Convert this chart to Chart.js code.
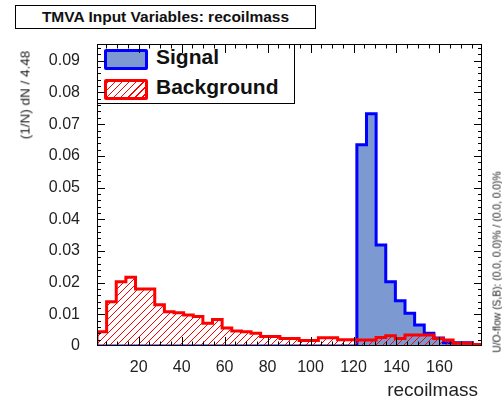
<!DOCTYPE html>
<html>
<head>
<meta charset="utf-8">
<script src="https://cdn.jsdelivr.net/npm/chart.js@4.4.1/dist/chart.umd.min.js"></script>
<style>
  html, body { margin: 0; padding: 0; background: #fff; }
  #wrap { position: relative; width: 502px; height: 401px; overflow: hidden; font-family: "Liberation Sans", Arial, Helvetica, sans-serif; }
  #c { position: absolute; left: 0; top: 0; z-index: 2; }
  #title { position: absolute; left: 15px; top: 5px; width: 299px; height: 22px; border: 1.5px solid #000; background: #fff;
           font-weight: bold; font-size: 15.5px; line-height: 22px; text-align: center; color: #111; z-index: 3; }
  #legend { position: absolute; left: 97px; top: 44px; width: 196px; height: 58px; border: 1px solid #000; background: #fff; z-index: 1; }
  .sw { position: absolute; left: 6px; width: 38px; border-radius: 2px; }
  #swS { top: 4px; height: 15px; background: #7d99d1; border: 3px solid #0000ff; }
  #swB { top: 34px; height: 15px; border: 3px solid #ff0000;
         background: repeating-linear-gradient(135deg, #ff0000 0px, #ff0000 1.2px, #ffffff 1.2px, #ffffff 5px); }
  .lt { position: absolute; left: 58px; font-weight: bold; font-size: 21px; line-height: 21px; color: #111; white-space: nowrap; }
  #uo { position: absolute; left: 497px; top: 262px; transform: translate(-50%, -50%) rotate(-90deg); font-size: 10.3px;
        color: #222; white-space: nowrap; z-index: 3; }
  #ytitle { position: absolute; left: 25px; top: 95px; transform: translate(-50%, -50%) rotate(-90deg); font-size: 13.5px;
        color: #222; white-space: nowrap; z-index: 3; }
  #xtitle { position: absolute; right: 24px; top: 380px; font-size: 19px; line-height: 20px; color: #222; white-space: nowrap; z-index: 3; }
</style>
</head>
<body>
<div id="wrap">
  <div id="title">TMVA Input Variables: recoilmass</div>
  <div id="legend">
    <div class="sw" id="swS"></div><div class="lt" style="top:1px">Signal</div>
    <div class="sw" id="swB"></div><div class="lt" style="top:31px">Background</div>
  </div>
  <canvas id="c" width="502" height="401"></canvas>
  <div id="ytitle">(1/N) dN / 4.48</div>
  <div id="xtitle">recoilmass</div>
  <div id="uo">U/O-flow (S,B): (0.0, 0.0)% / (0.0, 0.0)%</div>
</div>
<script>
// ---- data ----
const xMin = 0.6;
const binWidth = 4.48;
const nBins = 40;
const xMax = xMin + nBins * binWidth;
const yMax = 0.0953;

const signal = [
  0, 0, 0, 0, 0, 0, 0, 0, 0, 0,
  0, 0, 0, 0, 0, 0, 0, 0, 0, 0,
  0, 0, 0, 0, 0, 0, 0, 0.0635, 0.0733, 0.0319,
  0.0203, 0.0143, 0.0103, 0.0066, 0.0040, 0.0025, 0.0010, 0.0010, 0.0010, 0.0002
];
const background = [
  0.0045, 0.0140, 0.0203, 0.0217, 0.0180, 0.0180, 0.0130, 0.0108, 0.0105, 0.0098,
  0.0093, 0.0072, 0.0084, 0.0057, 0.0047, 0.0045, 0.0040, 0.0030, 0.0030, 0.0024,
  0.0024, 0.0017, 0.0017, 0.0026, 0.0026, 0.0020, 0.0020, 0.0019, 0.0019, 0.0027,
  0.0032, 0.0024, 0.0035, 0.0035, 0.0035, 0.0024, 0.0019, 0.0009, 0.0009, 0.0005
];
const xTicks = [20, 40, 60, 80, 100, 120, 140, 160];
const yTicks = [0, 0.01, 0.02, 0.03, 0.04, 0.05, 0.06, 0.07, 0.08, 0.09];
const yTickLabels = ['0', '0.01', '0.02', '0.03', '0.04', '0.05', '0.06', '0.07', '0.08', '0.09'];

// ---- helpers ----
function stepPoints(vals) {
  const pts = [{ x: xMin, y: 0 }];
  vals.forEach((v, i) => pts.push({ x: xMin + i * binWidth, y: v }));
  pts.push({ x: xMin + vals.length * binWidth, y: vals[vals.length - 1] });
  pts.push({ x: xMin + vals.length * binWidth, y: 0 });
  return pts;
}
const ctx = document.getElementById('c').getContext('2d');
function hatchPattern() {
  const s = 7;
  const c = document.createElement('canvas');
  c.width = s; c.height = s;
  const g = c.getContext('2d');
  g.strokeStyle = '#ff0000';
  g.lineWidth = 1;
  g.beginPath();
  g.moveTo(0, s); g.lineTo(s, 0);
  g.moveTo(-1, 1); g.lineTo(1, -1);
  g.moveTo(s - 1, s + 1); g.lineTo(s + 1, s - 1);
  g.stroke();
  return ctx.createPattern(c, 'repeat');
}

const font = '"Liberation Sans", Arial, Helvetica, sans-serif';

const framePlugin = {
  id: 'rootFrame',
  afterDatasetsDraw(chart) {
    const { ctx: c, chartArea: a, scales: { x, y } } = chart;
    c.save();
    c.strokeStyle = '#000';
    c.lineWidth = 1;
    c.strokeRect(a.left + 0.5, a.top + 0.5, a.right - a.left - 1, a.bottom - a.top - 1);
    c.beginPath();
    for (let v = 5; v < xMax; v += 5) {
      const px = Math.round(x.getPixelForValue(v)) + 0.5;
      const L = (v % 20 === 0) ? 9 : 4.5;
      c.moveTo(px, a.bottom); c.lineTo(px, a.bottom - L);
      c.moveTo(px, a.top); c.lineTo(px, a.top + L);
    }
    for (let k = 1; k * 0.002 < yMax; k++) {
      const py = Math.round(y.getPixelForValue(k * 0.002)) + 0.5;
      const L = (k % 5 === 0) ? 8 : 4;
      c.moveTo(a.left, py); c.lineTo(a.left + L, py);
      c.moveTo(a.right, py); c.lineTo(a.right - L, py);
    }
    c.stroke();
    c.restore();
  }
};

new Chart(ctx, {
  type: 'line',
  data: {
    datasets: [
      {
        label: 'Background',
        data: stepPoints(background),
        stepped: 'before',
        borderColor: '#ff0000',
        borderWidth: 3,
        backgroundColor: hatchPattern(),
        fill: 'origin',
        pointRadius: 0,
        order: 0
      },
      {
        label: 'Signal',
        data: stepPoints(signal),
        stepped: 'before',
        borderColor: '#0000ff',
        borderWidth: 3,
        backgroundColor: '#7d99d1',
        fill: 'origin',
        pointRadius: 0,
        order: 1
      }
    ]
  },
  options: {
    responsive: false,
    animation: false,
    devicePixelRatio: 1,
    layout: { padding: { left: 0, right: 20, top: 44, bottom: 0 } },
    plugins: { legend: { display: false }, tooltip: { enabled: false }, title: { display: false } },
    scales: {
      x: {
        type: 'linear',
        min: xMin,
        max: xMax,
        grid: { display: false },
        border: { display: false },
        afterBuildTicks: (s) => { s.ticks = xTicks.map(v => ({ value: v })); },
        afterFit: (s) => { s.height = 55; },
        ticks: { autoSkip: false, maxRotation: 0, padding: 4, color: '#222', font: { family: font, size: 16 } }
      },
      y: {
        type: 'linear',
        min: 0,
        max: yMax,
        grid: { display: false },
        border: { display: false },
        afterBuildTicks: (s) => { s.ticks = yTicks.map(v => ({ value: v })); },
        afterFit: (s) => { s.width = 97; },
        ticks: {
          autoSkip: false, padding: 9, color: '#222', font: { family: font, size: 16 },
          callback: (v) => { const i = yTicks.indexOf(v); return i >= 0 ? yTickLabels[i] : ''; }
        }
      }
    }
  },
  plugins: [framePlugin]
});
</script>
</body>
</html>
